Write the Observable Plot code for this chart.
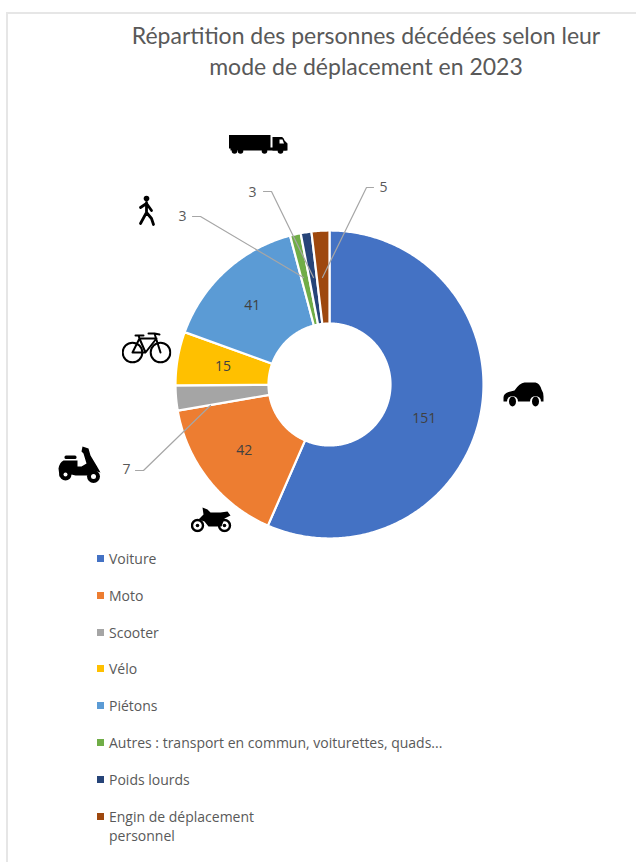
<!DOCTYPE html>
<html lang="fr">
<head>
<meta charset="utf-8">
<script src="https://cdn.jsdelivr.net/npm/d3@7"></script>
<script src="https://cdn.jsdelivr.net/npm/@observablehq/plot@0.6"></script>
<style>
  html,body{margin:0;padding:0;background:#fff;overflow:hidden}
  #page{position:relative;width:636px;height:862px;overflow:hidden}
  #frame{position:absolute;left:6px;top:12px;width:700px;height:900px;border-left:2px solid #e6e6e6;border-top:2px solid #e6e6e6;pointer-events:none}
  #title{height:90px;box-sizing:border-box;padding:20px 0 0 96px;text-align:center;font:400 23px/31px Lato,sans-serif;color:#595959;white-space:pre-line}
  #chart svg{display:block}
  #legend{margin-top:-1px;padding-left:97px;font:14px/19px "Open Sans",sans-serif;color:#595959}
  .row{display:flex;align-items:flex-start;margin-bottom:17.8px;white-space:pre-line}
  .sw{width:7px;height:7px;margin:6px 5px 0 0;flex:none}
</style>
</head>
<body>
<div id="page">
  <div id="frame"></div>
  <div id="title"></div>
  <div id="chart"></div>
  <div id="legend"></div>
</div>
<script>
const titleText = "Répartition des personnes décédées selon leur\nmode de déplacement en 2023";
const categories = ["Voiture","Moto","Scooter","Vélo","Piétons","Autres : transport en commun, voiturettes, quads...","Poids lourds","Engin de déplacement personnel"];
const legendLabels = ["Voiture","Moto","Scooter","Vélo","Piétons","Autres : transport en commun, voiturettes, quads...","Poids lourds","Engin de déplacement\npersonnel"];
const values = [151,42,7,15,41,3,3,5];
const colors = ["#4472C4","#ED7D31","#A5A5A5","#FFC000","#5B9BD5","#70AD47","#264478","#9E480E"];

// Layout (chart units are pixels, origin at the centre of the ring)
const R = 154, r0 = 61, Rmid = 107;
const total = d3.sum(values);
const cum = d3.cumsum(values);
const slices = categories.map((name,i)=>({name,value:values[i],a0:(cum[i]-values[i])/total*2*Math.PI,a1:cum[i]/total*2*Math.PI}));
const pol = (a,rad)=>({x:rad*Math.sin(a),y:-rad*Math.cos(a)});

const ring = slices.flatMap(s=>{
  const n = Math.max(4,Math.ceil((s.a1-s.a0)/0.01));
  const as = d3.range(n+1).map(k=>s.a0+(s.a1-s.a0)*k/n);
  const pts = [...as.map(a=>pol(a,R)),...as.reverse().map(a=>pol(a,r0))];
  pts.push(pts[0]);
  return pts.map(p=>({...p,name:s.name}));
});

// Inside labels; two were moved by hand in the original
const insideOffset = {"Voiture":[-10,12],"Piétons":[-5,0]};
const inside = slices.filter(s=>s.value>=15).map(s=>{
  const p = pol((s.a0+s.a1)/2,Rmid), o = insideOffset[s.name]||[-1,0];
  return {x:p.x+o[0],y:p.y+o[1],label:s.value};
});

// Outside labels with their leader lines (slice index → pixel layout)
const outside = [
  {slice:2,label:[-203,85],path:[[-194,86],[-186,86],[-119,21]]},
  {slice:5,label:[-147,-168],path:[[-137,-168],[-129,-168],[-26,-107]]},
  {slice:6,label:[-77,-192],path:[[-66,-193],[-58,-193],[-16,-107]]},
  {slice:7,label:[54,-197],path:[[44,-197],[37,-197],[-7,-107]]}
];
const leaders = outside.flatMap((o,i)=>o.path.map(p=>({x:p[0],y:p[1],id:i})));
const outsideLabels = outside.map(o=>({x:o.label[0],y:o.label[1],label:values[o.slice]}));

const svgUri = (w,h,body)=>"data:image/svg+xml,"+encodeURIComponent(`<svg xmlns="http://www.w3.org/2000/svg" viewBox="0 0 ${w} ${h}" width="${w}" height="${h}">${body}</svg>`);
const carSvg = svgUri(42,26,`<path d="M1 16Q1 12 6 10.500L12 9Q17 1.500 22 1H33Q37 1.500 39 8Q41 11 41 15V20H1Z"/><circle cx="10" cy="20" r="5.500" fill="#fff"/><circle cx="33" cy="20" r="5.500" fill="#fff"/><ellipse cx="10" cy="20" rx="3.500" ry="5"/><ellipse cx="33" cy="20" rx="3.500" ry="5"/>`);
const truckSvg = svgUri(60,20,`<rect x="0" y="0.500" width="42" height="13.500"/><rect x="2" y="13" width="56" height="3"/><path d="M44 2.500H53Q55 2.500 56 6L59 9V16H44Z"/><path d="M51 5H54L55.500 9H51Z" fill="#fff"/><circle cx="6" cy="16.500" r="2.800"/><circle cx="12" cy="16.500" r="2.800"/><circle cx="36" cy="16.500" r="2.800"/><circle cx="52" cy="16.500" r="2.800"/>`);
const walkerSvg = svgUri(20,32,`<circle cx="10" cy="4" r="2.800"/><path d="M10 8L10 18L4 29M10 18L15 24L17 30M10 9L4 13M10 9L15 16" fill="none" stroke="#000" stroke-width="2.800" stroke-linecap="round" stroke-linejoin="round"/>`);
const bikeSvg = svgUri(50,34,`<g fill="none" stroke="#000" stroke-width="2" stroke-linecap="round" stroke-linejoin="round"><circle cx="11" cy="22" r="9.800"/><circle cx="39" cy="22" r="9.800"/><path d="M11 22L18 8H35L24 22H11M18 8L24 22M39 22L33 3H27M33 3L38 4M14 5H22M18 8L17 5"/></g>`);
const scooterSvg = svgUri(46,38,`<path d="M25 1L31 3L33 10L39 20L43 27L36 25L32 30H18L14 29Q5 32 2 31L1 23Q2 17 6 15H20V21H24L29 18L26 8L24 6Z"/><rect x="7" y="10" width="12" height="3.500" rx="1.500"/><circle cx="8" cy="29" r="6"/><circle cx="8" cy="29" r="2" fill="#fff"/><circle cx="36" cy="31" r="6.500"/><circle cx="36" cy="31" r="2.500" fill="#fff"/>`);
const motoSvg = svgUri(42,26,`<path d="M12 1L17 3L20 6H30L37 5L40 9L34 12L31 20H18L14 15L8 13L13 8Z"/><g fill="none" stroke="#000" stroke-width="2.400"><circle cx="7" cy="19" r="5.500"/><circle cx="34" cy="19" r="5.500"/></g><circle cx="7" cy="19" r="1.800"/><circle cx="34" cy="19" r="1.800"/>`);
const icons = [
  {x:194,y:10,w:42,h:26,src:carSvg},
  {x:-71,y:-240,w:60,h:20,src:truckSvg},
  {x:-183,y:-174,w:20,h:32,src:walkerSvg},
  {x:-183,y:-37,w:50,h:34,src:bikeSvg},
  {x:-249,y:80,w:46,h:38,src:scooterSvg},
  {x:-118,y:135,w:42,h:26,src:motoSvg}
];

document.getElementById("title").textContent = titleText;

const plot = Plot.plot({
  width:636, height:460, margin:0,
  x:{domain:[-329,307],range:[0,636],axis:null},
  y:{domain:[-294,166],range:[0,460],axis:null},
  color:{domain:categories,range:colors},
  marks:[
    Plot.line(ring,{x:"x",y:"y",z:"name",fill:"name",stroke:"#fff",strokeWidth:2.2,strokeOpacity:1}),
    Plot.line(leaders,{x:"x",y:"y",z:"id",stroke:"#a6a6a6",strokeWidth:1.2}),
    Plot.text(inside,{x:"x",y:"y",text:"label",fill:"#404040",fontSize:14,fontFamily:"Open Sans"}),
    Plot.text(outsideLabels,{x:"x",y:"y",text:"label",fill:"#595959",fontSize:14,fontFamily:"Open Sans"}),
    Plot.image(icons,{x:"x",y:"y",width:"w",height:"h",src:"src"})
  ]
});
document.getElementById("chart").append(plot);

const legend = d3.select("#legend").selectAll("div").data(categories).join("div").attr("class","row");
legend.append("span").attr("class","sw").style("background",(d,i)=>colors[i]);
legend.append("span").text((d,i)=>legendLabels[i]);
</script>
</body>
</html>
